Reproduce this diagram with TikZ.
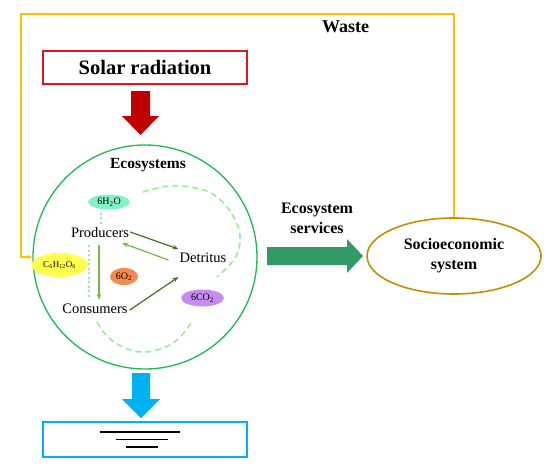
\documentclass[tikz,border=0pt]{standalone}
\usepackage{fontspec}
\setmainfont{Liberation Serif}
\usetikzlibrary{arrows.meta,shapes.geometric,calc}
\definecolor{wasteY}{HTML}{FFC000}
\definecolor{solarR}{HTML}{E0141E}
\definecolor{arrowR}{HTML}{C00000}
\definecolor{ecoG}{HTML}{1DB954}
\definecolor{dashG}{HTML}{96EE96}
\definecolor{darkG}{HTML}{466F2A}
\definecolor{lightG}{HTML}{78B848}
\definecolor{servG}{HTML}{339966}
\definecolor{socioY}{HTML}{C09000}
\definecolor{blueA}{HTML}{00B0F0}
\definecolor{mint}{HTML}{84F2C8}
\definecolor{gluY}{HTML}{FFFF50}
\definecolor{oxO}{HTML}{F58A4E}
\definecolor{coP}{HTML}{C68CF2}
\tikzset{
  bigtxt/.style={font=\bfseries\fontsize{16}{20}\selectfont, align=center},
  orgtxt/.style={font=\fontsize{14.5}{17}\selectfont, inner sep=1pt},
  molecule/.style={ellipse, draw=none, inner sep=0pt, font=\fontsize{10}{12}\selectfont},
  flowdark/.style={draw=darkG, line width=1.2pt, -{Stealth[length=6pt,width=4.5pt]}},
  flowlight/.style={draw=lightG, line width=1.2pt, -{Stealth[length=6pt,width=4.5pt]}},
  dotline/.style={draw=dashG, line width=2pt, dash pattern=on 2pt off 2.5pt},
  cycleline/.style={draw=dashG, line width=1.6pt, dash pattern=on 6pt off 4pt},
  sinkline/.style={line width=1.8pt},
}
\begin{document}
\begin{tikzpicture}[x=1pt,y=-1pt]
\useasboundingbox (0,0) rectangle (557,472);

% Solar radiation
\node[draw=solarR, line width=1.2pt, minimum width=204pt, minimum height=33pt,
      font=\bfseries\fontsize{20.5}{24}\selectfont] (solar) at (145,67.5) {Solar radiation};
\fill[arrowR] (131,91) -- (150,91) -- (150,116) -- (159,116) -- (140.5,135) -- (122,116) -- (131,116) -- cycle;

% Ecosystem circle
\node[circle, draw=ecoG, line width=1.3pt, minimum size=224pt] (eco) at (145,257) {};
\node[font=\bfseries\fontsize{15.5}{18}\selectfont] (ecot) at (148,165) {Ecosystems};

% molecules
\node[molecule, fill=mint, minimum width=42pt, minimum height=15pt] (h2o) at (109,202) {6H\textsubscript{2}O};
\node[molecule, fill=gluY, minimum width=56pt, minimum height=24pt, font=\fontsize{9}{11}\selectfont] (glu) at (59.5,265) {C\textsubscript{6}H\textsubscript{12}O\textsubscript{6}};
\node[molecule, fill=oxO, minimum width=28pt, minimum height=17pt] (o2) at (124,276.5) {6O\textsubscript{2}};
\node[molecule, fill=coP, minimum width=43pt, minimum height=17pt] (co2) at (202.5,298) {6CO\textsubscript{2}};

% organisms
\node[orgtxt] (prod) at (100,233) {Producers};
\node[orgtxt] (det) at (203,258) {Detritus};
\node[orgtxt] (cons) at (95,309) {Consumers};

% flows
\draw[flowdark] ($(prod.east)+(0,-1)$) -- ($(det.west)+(0,-9)$);
\draw[flowlight] ($(det.west)+(-10,2)$) -- ($(prod.center)+(22,10)$);
\draw[flowlight] ($(prod.south)+(-1,6)$) -- ($(cons.north)+(4,-3)$);
\draw[flowdark] ($(cons.east)+(1,1)$) -- ($(det.west)+(0,19)$);

% dotted links
\draw[dotline] ($(h2o.south)+(-8,3)$) -- ($(prod.north)+(1,-2)$);
\coordinate (dtop) at (89,245);
\coordinate (dbot) at (89,297);
\draw[dotline] (dtop) -- (dbot);

% cycle arcs
\draw[cycleline] plot[smooth, tension=0.7] coordinates {(143,192) (170,186) (200,189) (218,198) (233,216) (240,237) (235,258) (217,277)};
\draw[cycleline] plot[smooth, tension=0.7] coordinates {(97,322) (108,337) (125,348) (142,352) (160,349) (177,340) (191,323)};

% Ecosystem services
\fill[servG] (267,247) -- (347,247) -- (347,239) -- (363,256) -- (347,273) -- (347,265) -- (267,265) -- cycle;
\node[bigtxt] (servt) at (317,218.5) {Ecosystem\\services};

% Socioeconomic system
\node[ellipse, draw=socioY, line width=1.6pt, minimum width=174pt, minimum height=76pt, bigtxt] (socio) at (454,256) {Socioeconomic\\system};

% Waste loop
\coordinate (wTL) at (21,14);
\coordinate (wBL) at (21,257);
\draw[draw=wasteY, line width=1.2pt, -{Stealth[length=5pt,width=4pt]}] (socio.north) |- (wTL) -- (wBL) -- (eco.west);
\node[font=\bfseries\fontsize{18}{21}\selectfont] (waste) at (345.5,27) {Waste};

% outflow to sink
\fill[blueA] (132,373) -- (150,373) -- (150,399) -- (160,399) -- (141,418) -- (122,399) -- (132,399) -- cycle;
\node[draw=blueA, line width=1.3pt, minimum width=204pt, minimum height=35pt] (sink) at (145,439.5) {};
\draw[sinkline] (100,432) -- (180,432);
\draw[sinkline] (116,439.5) -- (168,439.5);
\draw[sinkline] (126,447) -- (158,447);
\end{tikzpicture}
\end{document}
